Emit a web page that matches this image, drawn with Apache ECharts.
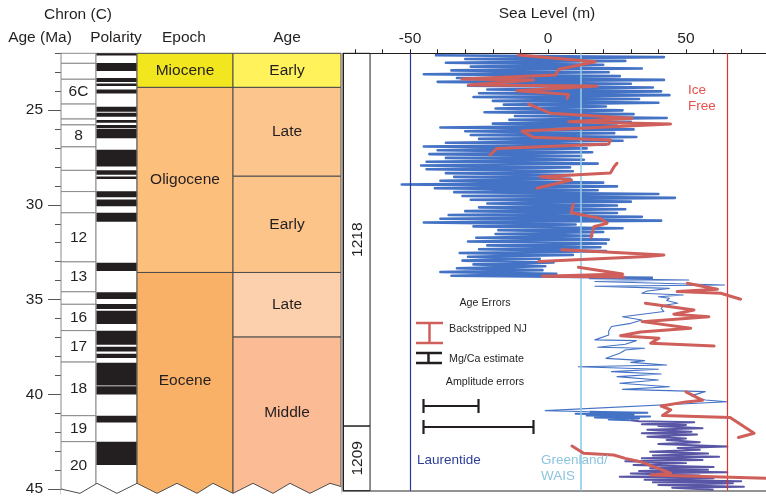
<!DOCTYPE html>
<html lang="en">
<head>
<meta charset="UTF-8">
<title>Sea level, Eocene to Miocene</title>
<script src="https://cdn.jsdelivr.net/npm/echarts@6/dist/echarts.min.js"></script>
<style>
  html, body { margin: 0; padding: 0; background: #fff; }
  #main { width: 766px; height: 497px; }
</style>
</head>
<body>
<div id="main"></div>
<script>
// ---------- data ----------
const ageTicks = [22,23,24,25,26,27,28,29,30,31,32,33,34,35,36,37,38,39,40,41,42,43,44,45];
const ageLabels = [25, 30, 35, 40, 45];
const seaTicks = [-70,-60,-50,-40,-30,-20,-10,0,10,20,30,40,50,60,70];
const seaLabels = [-50, 0, 50];

// magnetic chrons (box boundaries in Ma) and their names
const chronBounds = [22.0,22.53,23.37,24.68,25.47,25.78,26.94,28.18,29.30,30.42,33.01,34.59,35.25,36.64,38.30,41.13,42.50,45.0];
const chronNames = ['','','6C','','','8','','','','12','13','','16','17','18','19','20'];

// normal polarity intervals (black)
const polarityNormal = [
  [22.0,22.12],[22.51,22.93],[23.30,23.52],[23.59,23.73],[23.91,24.12],[24.82,25.08],[25.14,25.35],
  [25.52,25.66],[25.78,25.95],[25.99,26.48],[27.09,27.97],[28.18,28.41],[28.50,28.63],[29.28,29.60],
  [29.72,30.07],[30.42,30.89],[33.05,33.49],[34.62,34.97],[35.24,35.50],[35.59,36.29],[36.64,37.39],
  [37.49,37.74],[37.86,38.09],[38.33,39.53],[39.58,40.01],[41.13,41.49],[42.50,43.73]
];

const epochNames = ['Miocene', 'Oligocene', 'Eocene'];
const epochBounds = [22, 23.8, 33.57, 45];
const epochColors = ['#f2e61e', '#fdbf7c', '#f9b067'];

const stageNames = ['Early', 'Late', 'Early', 'Late', 'Middle'];
const stageBounds = [22, 23.8, 28.49, 33.57, 36.98, 45];
const stageColors = ['#fff25a', '#fdc58e', '#fdc48a', '#fdd0ad', '#fbbb94'];

const siteNames = ['1218', '1209'];
const siteBounds = [22, 41.6, 45];

// ice volume reference levels (m)
const iceLevelNames = ['Laurentide', 'Greenland/WAIS', 'Ice Free'];
const iceLevels = [-50, 12, 65];

// Site 1218 sea level estimate [age Ma, sea level m]
const site1218 = [
  [22.1,-41],[22.2,42],[22.3,-30],[22.4,28],[22.5,-37],[22.6,20],[22.7,-28],[22.8,34],[22.9,-35],[23.0,22],
  [23.1,-45],[23.2,26],[23.3,-33],[23.4,42],[23.5,-40],[23.6,30],[23.7,-29],[23.8,38],[23.9,-22],[24.0,41],
  [24.1,-25],[24.2,44],[24.3,-27],[24.4,33],[24.5,-20],[24.6,40],[24.7,-16],[24.8,21],[24.9,-19],[25.0,27],
  [25.1,-23],[25.2,31],[25.3,-12],[25.4,43],[25.5,-14],[25.6,30],[25.7,-20],[25.8,25],[25.9,-39],[26.0,31],
  [26.1,-30],[26.2,24],[26.3,-28],[26.4,32],[26.5,-25],[26.6,27],[26.7,-37],[26.8,21],[26.9,-45],[27.0,14],
  [27.1,-40],[27.2,16],[27.3,-43],[27.4,12],[27.5,-37],[27.6,13],[27.7,-44],[27.8,18],[27.9,-46],[28.0,8],
  [28.1,-44],[28.2,9],[28.3,-37],[28.4,8],[28.5,-34],[28.6,8],[28.7,-39],[28.8,20],[28.9,-53],[29.0,25],
  [29.1,-41],[29.2,18],[29.3,-34],[29.4,40],[29.5,-31],[29.6,46],[29.7,-28],[29.8,30],[29.9,-22],[30.0,25],
  [30.1,-25],[30.2,28],[30.3,-30],[30.4,25],[30.5,-36],[30.6,34],[30.7,-39],[30.8,41],[30.9,-45],[31.0,10],
  [31.1,-27],[31.2,27],[31.3,-18],[31.4,20],[31.5,-19],[31.6,16],[31.7,-26],[31.8,22],[31.9,-29],[32.0,21],
  [32.1,-22],[32.2,19],[32.3,-25],[32.4,21],[32.5,-32],[32.6,9],[32.7,-29],[32.8,-3],[32.9,-31],[33.0,2],
  [33.1,-27],[33.2,-1],[33.3,-33],[33.4,-2],[33.5,-39],[33.6,3],[33.7,-35],[33.8,38]
];

// thinner Eocene part of the Site 1218 record
const site1218Eocene = [
  [33.8,38],[33.85,15],[33.92,51],[34.0,17],[34.18,64],[34.25,17],[34.36,44],[34.5,36],[34.62,34],[34.71,49],
  [34.8,40],[34.88,44],[35.0,43],[35.14,47],[35.25,42],[35.41,41],[35.58,42],[35.85,27],[36.02,34],[36.2,30],
  [36.37,23],[36.6,22],[36.81,22],[37.07,17],[37.11,32],[37.3,28],[37.46,18],[37.51,35],[37.6,28],[37.77,26],
  [38.04,21],[38.16,35],[38.25,30],[38.39,43],[38.48,11],[38.61,40],[38.74,23],[38.86,41],[39.0,25],[39.18,40],
  [39.35,26],[39.53,44],[39.67,27],[39.79,57],[40.0,52],[40.23,57],[40.32,65],[40.79,-1],[40.85,15]
];

const site1209Upper = [
  [40.85,15],[40.9,36],[40.95,10],[41.0,31],[41.05,14],[41.1,37],[41.15,17],[41.2,33],[41.25,22],[41.3,30]
];

const site1209 = [
  [41.3,30],[41.35,33],[41.4,53],[41.5,34],[41.54,50],[41.6,40],[41.72,56],[41.8,36],[41.9,52],[41.98,34],
  [42.05,54],[42.16,36],[42.25,50],[42.33,43],[42.45,55],[42.55,40],[42.68,65],[42.75,47],[42.85,55],[42.95,37],
  [43.05,58],[43.15,38],[43.21,62],[43.3,34],[43.38,56],[43.45,28],[43.55,50],[43.65,31],[43.75,60],[43.82,37],
  [43.9,58],[43.97,33],[44.03,65],[44.1,30],[44.2,55],[44.26,26],[44.35,60],[44.43,35],[44.5,70],[44.55,38],
  [44.61,67],[44.7,40],[44.79,71],[44.85,45],[44.95,60]
];

// backstripped New Jersey record, drawn as separate pieces
const njSegments = [
  [[22.09,-10.7],[22.44,17.2],[22.84,3.9],[23.14,2.7],[23.35,-31.2],[23.40,-5.2],[23.67,-28.8],[23.72,17.8],[23.97,-11.3],[24.16,7.5],[24.37,6.9]],
  [[24.67,-7.0],[25.15,0.8],[25.42,30.5],[25.6,7.5],[25.72,44.4],[26.09,-9.4],[26.42,-5.4],[26.56,22.6],[26.77,22.0],[27.0,-18.5],[27.35,-21]],
  [[27.78,25],[27.95,24],[28.3,22.6],[28.49,-2.8],[28.66,8.5],[29.1,-4]],
  [[29.94,9.1],[30.38,8.4],[30.68,19.0],[30.94,21.4],[31.12,16.6],[31.67,15.6]],
  [[32.33,5],[32.6,42],[32.68,36],[32.95,-3.4]],
  [[33.25,11],[33.6,27],[33.72,-2],[33.76,27.5]],
  [[34.09,50.5],[34.41,61.4],[34.53,46.8],[34.62,62.6],[34.93,69.8]],
  [[35.14,35.3],[35.5,52.9],[35.72,45.6],[35.85,58.3],[36.11,34.1],[36.46,51.7],[36.65,33.5],[36.85,26.3],[36.98,40.2],[37.25,37.2],[37.39,60.2]],
  [[39.8,50],[40.25,56],[40.33,50],[40.55,41],[40.75,44.5],[41.05,41.5],[41.15,66],[41.98,74.7],[42.2,69]],
  [[42.65,8.7],[43.03,12.9],[43.12,23.8],[43.3,28],[43.47,33.5],[44.08,44.4],[44.17,37.2],[44.35,79.5]]
];

// ---------- layout ----------
const FONT = '"Liberation Sans", Arial, Helvetica, sans-serif';
const INK = '#231f20';
const COL_CHRON = [0, 35], COL_POL = [35, 76], COL_EPOCH = [76, 172], COL_STAGE = [172, 280];
const SITE_COL = [-74.3, -64.5];
const BLUE = '#4472c4', PURPLE = '#5a56a6', NJRED = '#cf5f5a';
// torn bottom edge of the columns (x in column units, age)
const tornEdge = [[0,45.0],[19,45.23],[36,44.7],[56,45.23],[76,44.7],[96,45.23],[116,44.7],[136,45.23],
  [152,44.7],[172,45.23],[192,44.7],[212,45.23],[229,44.7],[249,45.23],[269,44.7],[280,44.87]];

function txt(text, size, color) {
  return { text: text, font: size + 'px ' + FONT, fill: color,
    align: 'center', verticalAlign: 'middle', textAlign: 'center', textVerticalAlign: 'middle' };
}

function bandSeries(bounds, col, fills, labels, stroke, z) {
  const data = [];
  for (let i = 0; i < bounds.length - 1; i++) data.push([col[0], col[1], bounds[i], bounds[i + 1]]);
  return {
    type: 'custom', xAxisIndex: 0, yAxisIndex: 0, silent: true, z: z || 2,
    encode: { x: [0, 1], y: [2, 3] },
    data: data,
    renderItem: function (params, api) {
      const i = params.dataIndex;
      const bot = api.value(3) >= 45 ? 45.3 : api.value(3);
      const p0 = api.coord([api.value(0), api.value(2)]);
      const p1 = api.coord([api.value(1), bot]);
      const fill = Array.isArray(fills) ? fills[i] : fills;
      const kids = [{
        type: 'rect',
        shape: { x: p0[0], y: p0[1], width: p1[0] - p0[0], height: p1[1] - p0[1] },
        style: { fill: fill, stroke: stroke, lineWidth: 1 }
      }];
      if (labels && labels[i]) {
        const ym = api.coord([0, (api.value(2) + api.value(3)) / 2])[1];
        kids.push({ type: 'text', x: (p0[0] + p1[0]) / 2, y: ym, style: txt(labels[i], 15.5, INK) });
      }
      return { type: 'group', children: kids };
    }
  };
}

const chronSeries = bandSeries(chronBounds, COL_CHRON, '#ffffff', chronNames, '#8a8a8a', 2);
const polBackground = bandSeries([22, 45], COL_POL, '#ffffff', null, '#8a8a8a', 2);
const polSeries = {
  type: 'custom', xAxisIndex: 0, yAxisIndex: 0, silent: true, z: 3,
  encode: { y: [0, 1] },
  data: polarityNormal,
  renderItem: function (params, api) {
    const p0 = api.coord([COL_POL[0] + 0.5, api.value(0)]);
    const p1 = api.coord([COL_POL[1] - 0.5, api.value(1)]);
    return { type: 'rect', shape: { x: p0[0], y: p0[1], width: p1[0] - p0[0], height: p1[1] - p0[1] },
      style: { fill: INK } };
  }
};
const epochSeries = bandSeries(epochBounds, COL_EPOCH, epochColors, epochNames, '#4d4d4d', 2);
const stageSeries = bandSeries(stageBounds, COL_STAGE, stageColors, stageNames, '#4d4d4d', 2);

const tornSeries = {
  type: 'custom', xAxisIndex: 0, yAxisIndex: 0, silent: true, z: 5,
  data: [[0, 45]],
  renderItem: function (params, api) {
    const pts = tornEdge.map(function (p) { return api.coord(p); });
    const poly = pts.concat([api.coord([282, 46]), api.coord([-1, 46])]);
    return { type: 'group', children: [
      { type: 'polygon', shape: { points: poly }, style: { fill: '#ffffff' } },
      { type: 'polyline', shape: { points: pts }, style: { stroke: '#4d4d4d', lineWidth: 1, fill: null } }
    ] };
  }
};

const siteSeries = {
  type: 'custom', xAxisIndex: 1, yAxisIndex: 2, silent: true, z: 2,
  encode: { y: [0, 1] },
  data: siteBounds.slice(0, -1).map(function (a, i) { return [a, siteBounds[i + 1]]; }),
  renderItem: function (params, api) {
    const p0 = api.coord([SITE_COL[0], api.value(0)]);
    const p1 = api.coord([SITE_COL[1], api.value(1)]);
    const ym = api.coord([0, (api.value(0) + api.value(1)) / 2])[1];
    return { type: 'group', children: [
      { type: 'rect', shape: { x: p0[0], y: p0[1], width: p1[0] - p0[0], height: p1[1] - p0[1] },
        style: { fill: 'none', stroke: INK, lineWidth: 1 } },
      { type: 'text', x: (p0[0] + p1[0]) / 2 + 1, y: ym, rotation: Math.PI / 2,
        style: txt(siteNames[params.dataIndex], 15.5, INK) }
    ] };
  }
};

function flip(arr) { return arr.map(function (d) { return [d[1], d[0]]; }); }
function seaLine(data, color, width, z) {
  return { type: 'line', xAxisIndex: 1, yAxisIndex: 2, data: flip(data), showSymbol: false, symbol: 'none',
    silent: true, z: z, lineStyle: { color: color, width: width, join: 'round' } };
}

const iceColors = ['#253a96', '#8fcbe8', '#e3302b'];
const refSeries = {
  type: 'line', xAxisIndex: 1, yAxisIndex: 2, data: [], silent: true, z: 4,
  markLine: {
    silent: true, symbol: ['none', 'none'], label: { show: false }, animation: false,
    data: iceLevels.map(function (v, i) {
      return { xAxis: v, lineStyle: { color: iceColors[i], width: i === 1 ? 1.6 : 1.2, type: 'solid' } };
    })
  }
};

const series = [
  chronSeries, polBackground, polSeries, epochSeries, stageSeries, tornSeries, siteSeries,
  seaLine(site1218, BLUE, 2.6, 3),
  seaLine(site1218Eocene, BLUE, 1.1, 3),
  seaLine(site1209Upper, BLUE, 2, 3),
  seaLine(site1209, PURPLE, 2, 3),
  refSeries
].concat(njSegments.map(function (s) {
  const o = seaLine(s, NJRED, 3, 6);
  o.lineStyle.cap = 'round';
  return o;
}));

// ---------- header and legend texts ----------
function gText(x, y, text, size, color, align) {
  const st = txt(text, size, color);
  if (align) { st.align = align; st.textAlign = align; }
  return { type: 'text', x: x, y: y, silent: true, z: 20, style: st };
}
function gLine(x1, y1, x2, y2, color, w) {
  return { type: 'line', silent: true, z: 20, shape: { x1: x1, y1: y1, x2: x2, y2: y2 },
    style: { stroke: color, lineWidth: w } };
}
const graphic = [
  gText(78, 15, 'Chron (C)', 15.5, INK),
  gText(40, 38, 'Age (Ma)', 15.5, INK),
  gText(116, 38, 'Polarity', 15.5, INK),
  gText(184, 38, 'Epoch', 15.5, INK),
  gText(287, 38, 'Age', 15.5, INK),
  gText(547, 14, 'Sea Level (m)', 15.5, INK),
  gText(485, 303, 'Age Errors', 10.7, INK),
  gLine(416, 323, 443, 323, NJRED, 2.5), gLine(429.5, 323, 429.5, 343, NJRED, 2.5), gLine(416, 343, 443, 343, NJRED, 2.5),
  gText(449, 329, 'Backstripped NJ', 10.7, INK, 'left'),
  gLine(416, 353, 442, 353, INK, 2.5), gLine(428.5, 353, 428.5, 363, INK, 2.5), gLine(416, 363, 442, 363, INK, 2.5),
  gText(449, 359, 'Mg/Ca estimate', 10.7, INK, 'left'),
  gText(485, 382, 'Amplitude errors', 10.7, INK),
  gLine(423, 406, 479, 406, INK, 2.2), gLine(423.5, 399, 423.5, 413, INK, 2.2), gLine(478.5, 399, 478.5, 413, INK, 2.2),
  gLine(423, 427, 534, 427, INK, 2.2), gLine(423.5, 420, 423.5, 434, INK, 2.2), gLine(533.5, 420, 533.5, 434, INK, 2.2),
  gText(417, 460, iceLevelNames[0], 13.5, '#2d3e98', 'left'),
  gText(541, 460, 'Greenland/', 13.5, '#8ec4de', 'left'),
  gText(541, 476, 'WAIS', 13.5, '#8ec4de', 'left'),
  gText(688, 90, 'Ice', 13.5, '#e5524e', 'left'),
  gText(688, 106, 'Free', 13.5, '#e5524e', 'left')
];

const option = {
  animation: false,
  textStyle: { fontFamily: FONT },
  grid: [
    { left: 61, top: 53.3, width: 280, height: 437.4 },
    { left: 343, top: 53.3, width: 423, height: 437.4 }
  ],
  xAxis: [
    { gridIndex: 0, type: 'value', min: 0, max: 280, show: false },
    { gridIndex: 1, type: 'value', position: 'top', min: -74.3, max: 79,
      axisLine: { show: true, onZero: false, lineStyle: { color: INK, width: 1 } },
      axisTick: { show: true, customValues: seaTicks, length: 4, lineStyle: { color: INK } },
      axisLabel: { customValues: seaLabels, fontSize: 15.5, color: INK, margin: 7 },
      splitLine: { show: false } },
    { gridIndex: 1, type: 'value', position: 'bottom', min: -74.3, max: 79,
      axisLine: { show: true, onZero: false, lineStyle: { color: '#6f6f6f', width: 1.5 } },
      axisTick: { show: false }, axisLabel: { show: false }, splitLine: { show: false } }
  ],
  yAxis: [
    { gridIndex: 0, type: 'value', inverse: true, min: 22, max: 45, position: 'left',
      axisLine: { show: true, onZero: false, lineStyle: { color: '#555', width: 1 } },
      axisTick: { show: true, customValues: ageTicks, length: 6, lineStyle: { color: '#555' } },
      axisLabel: { customValues: ageLabels, fontSize: 15.5, color: INK, margin: 18 },
      splitLine: { show: false } },
    { gridIndex: 0, type: 'value', inverse: true, min: 22, max: 45, position: 'left',
      axisLine: { show: false },
      axisTick: { show: true, customValues: ageLabels, length: 13, lineStyle: { color: '#555' } },
      axisLabel: { show: false }, splitLine: { show: false } },
    { gridIndex: 1, type: 'value', inverse: true, min: 22, max: 45, position: 'left',
      axisLine: { show: true, onZero: false, lineStyle: { color: INK, width: 1 } },
      axisTick: { show: false }, axisLabel: { show: false }, splitLine: { show: false } }
  ],
  series: series,
  graphic: graphic
};

const chart = echarts.init(document.getElementById('main'), null, { renderer: 'canvas' });
chart.setOption(option);
</script>
</body>
</html>
